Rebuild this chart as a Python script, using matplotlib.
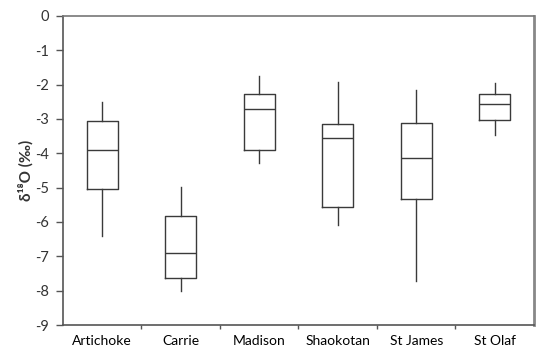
import matplotlib
matplotlib.use('Agg')
import matplotlib.pyplot as plt

plt.rcParams['font.family'] = ['Lato', 'DejaVu Sans']

# lake names and box statistics
lakes = ['Artichoke', 'Carrie', 'Madison', 'Shaokotan', 'St James', 'St Olaf']
whisker_lo = [-6.40, -8.01, -4.29, -6.08, -7.73, -3.47]
q1 = [-5.05, -7.63, -3.89, -5.55, -5.33, -3.02]
median = [-3.90, -6.91, -2.72, -3.54, -4.15, -2.55]
q3 = [-3.05, -5.82, -2.26, -3.16, -3.12, -2.28]
whisker_hi = [-2.50, -4.97, -1.76, -1.91, -2.16, -1.96]

yticks = list(range(0, -10, -1))

stats = []
for i, name in enumerate(lakes):
    stats.append({'label': name, 'whislo': whisker_lo[i], 'q1': q1[i],
                  'med': median[i], 'q3': q3[i], 'whishi': whisker_hi[i],
                  'fliers': []})

fig = plt.figure(figsize=(5.5, 3.6), dpi=100)
ax = fig.add_axes([0.1145, 0.0972, 0.8564, 0.8584])

lc = '#3a3a3a'
ax.bxp(stats, positions=range(1, 7), widths=0.4, showcaps=False,
       showfliers=False,
       boxprops=dict(color=lc, linewidth=1.0),
       whiskerprops=dict(color=lc, linewidth=1.0),
       medianprops=dict(color=lc, linewidth=1.0))

ax.set_xlim(0.5, 6.5)
ax.set_ylim(-9, 0)
ax.set_yticks(yticks)
ax.set_yticklabels([str(t) for t in yticks])

# category ticks between groups, labels centred under each box
ax.set_xticks([1.5, 2.5, 3.5, 4.5, 5.5], minor=False)
ax.set_xticklabels([])
ax.set_xticks(range(1, 7), minor=True)
ax.set_xticklabels(lakes, minor=True)
ax.tick_params(axis='x', which='minor', length=0, pad=7)
ax.tick_params(axis='x', which='major', length=3, width=1, color='#555555')
ax.tick_params(axis='y', length=5, width=1, color='#555555', pad=5)
ax.tick_params(labelsize=10.5, labelcolor='#333333')

for side in ['left', 'bottom']:
    ax.spines[side].set_color('#555555')
    ax.spines[side].set_linewidth(1.2)
ax.spines['top'].set_color('#777777')
ax.spines['top'].set_linewidth(1.2)
ax.spines['right'].set_color('#888888')
ax.spines['right'].set_linewidth(2.0)

ax.set_ylabel('δ¹⁸O (‰)', fontweight='bold', fontsize=11, color='#333333',
              labelpad=1)

fig.savefig('out.png', dpi=100)
